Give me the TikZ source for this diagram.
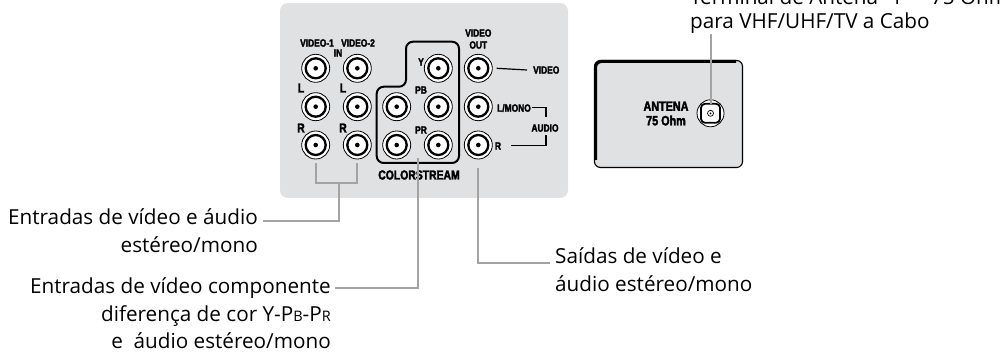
\documentclass[tikz,border=0pt]{standalone}
\usepackage{fontspec}
\setmainfont{Open Sans}
\newfontfamily\cond[FakeStretch=0.8,BoldFeatures={FakeBold=2.5}]{Liberation Sans}
\definecolor{panelgray}{HTML}{E0E1E2}
\definecolor{leadgray}{HTML}{A3A3A3}
\begin{document}
\begin{tikzpicture}[x=1pt,y=-1pt,
  leader/.style={draw=leadgray,line width=2},
  jack/.style={circle,draw,fill=white,line width=0.8,minimum size=28,inner sep=0},
  jackring/.style={line width=2.3},
  plbl/.style={font=\cond\bfseries\fontsize{10.5}{10.5}\selectfont,inner sep=0},
  plblbig/.style={font=\cond\bfseries\fontsize{13}{13}\selectfont,inner sep=0},
  albl/.style={font=\cond\bfseries\fontsize{13.5}{14.5}\selectfont,inner sep=0},
  lbl/.style={font=\fontsize{20.7}{24}\selectfont,inner sep=0},
  thinline/.style={line width=1.2},
]
\useasboundingbox (0,0) rectangle (1001,355);
% main panel
\fill[panelgray,rounded corners=8] (280,3) rectangle (568,198);
% colorstream outline
\draw[line width=2,rounded corners=7] (406,41.7) -- (459,41.7) -- (459,163) -- (376.7,163) -- (376.7,86.7) -- (406,86.7) -- cycle;
% jacks
\foreach \c/\x in {1/315.7,2/357.3,3/396.7,4/438.3,5/478.3}{
  \foreach \r/\y in {1/68.3,2/106.7,3/145}{
    \ifnum\c\r=31 \else
      \node[jack] (j\c\r) at (\x,\y) {};
      \draw[jackring] (j\c\r.center) circle (10);
      \fill (j\c\r.center) circle (2.3);
    \fi
  }
}
% panel labels
\node[plbl] (tv1) at (317,43) {VIDEO-1};
\node[plbl] (tv2) at (358,43) {VIDEO-2};
\node[plbl] (tin) at (338,53) {IN};
\node[plblbig] (tl1) at (301,88) {L};
\node[plblbig] (tl2) at (343,88) {L};
\node[plblbig] (tr1) at (301,128) {R};
\node[plblbig] (tr2) at (343,128) {R};
\node[plbl] (ty) at (421,62) {Y};
\node[plbl] (tpb) at (421,90) {PB};
\node[plbl] (tpr) at (421,130) {PR};
\node[plblbig] (tcs) at (419,175) {COLORSTREAM};
\node[plbl,align=center,font=\cond\bfseries\fontsize{10.5}{12}\selectfont] (tvo) at (478.3,39) {VIDEO\\OUT};
\node[plbl,anchor=west] (tvid) at (533,70) {VIDEO};
\node[plbl,anchor=west] (tlm) at (497,108) {L/MONO};
\node[plbl] (taud) at (545,128) {AUDIO};
\node[plbl] (trr) at (498,146) {R};
\draw[thinline] ([xshift=4]j51.east) -- (tvid.west -| 527,0);
\coordinate (am1) at (532,107.3);
\coordinate (am2) at (546,117);
\coordinate (ar1) at (511,145.7);
\coordinate (ar2) at (546,135);
\draw[thinline] (am1) -| (am2);
\draw[thinline] (ar1) -| (ar2);
% antenna box
\fill[panelgray,rounded corners=6] (594,60) rectangle (743,168);
\draw[line width=1.1,rounded corners=6] (594.5,60.5) rectangle (742.5,167.5);
\draw[line width=3,rounded corners=6] (595.5,160) -- (595.5,61.5) -- (736,61.5);
\node[circle,draw,fill=white,line width=0.8,minimum size=27,inner sep=0] (ant) at (710.5,113.3) {};
\draw[line width=1.8,rounded corners=4] (701,103.8) rectangle (720,122.8);
\draw[line width=0.7] (ant.center) circle (3);
\fill (ant.center) circle (1);
\node[albl,align=center] (tant) at (666,113.5) {ANTENA\\75 Ohm};
% callout labels
\node[lbl,anchor=base east] (l1a) at (258,225) {Entradas de vídeo e áudio};
\node[lbl,anchor=base east] (l1b) at (258,253) {estéreo/mono};
\node[lbl,anchor=base east] (l2a) at (331,294) {Entradas de vídeo componente};
\node[lbl,anchor=base east] (l2b) at (331,321) {diferença de cor Y-P{\fontsize{14.5}{14.5}\selectfont B}-P{\fontsize{14.5}{14.5}\selectfont R}};
\node[lbl,anchor=base east] (l2c) at (331,348) {e\ \ áudio estéreo/mono};
\node[lbl,anchor=base west] (l3a) at (555,264) {Saídas de vídeo e};
\node[lbl,anchor=base west] (l3b) at (555,292) {áudio estéreo/mono};
\node[lbl,anchor=base west] (l4a) at (690,5) {Terminal de Antena “1” – 75 Ohm};
\node[lbl,anchor=base west] (l4b) at (690,29) {para VHF/UHF/TV a Cabo};
% leaders
\coordinate (bm) at (339,183);
\draw[leader] ([yshift=-4]j13.south) |- (bm) -| ([yshift=-4]j23.south);
\draw[leader] (bm) |- ([xshift=5]l1a.east |- 0,221);
\coordinate (cs0) at (417.7,158);
\draw[leader] (cs0) |- ([xshift=4]l2a.east |- 0,288);
\draw[leader] ([yshift=-9]j53.south) |- ([xshift=-5]l3a.west |- 0,263);
\draw[leader] (ant.center |- l4b.south) -- (ant.center |- 0,103.8);
\end{tikzpicture}
\end{document}
